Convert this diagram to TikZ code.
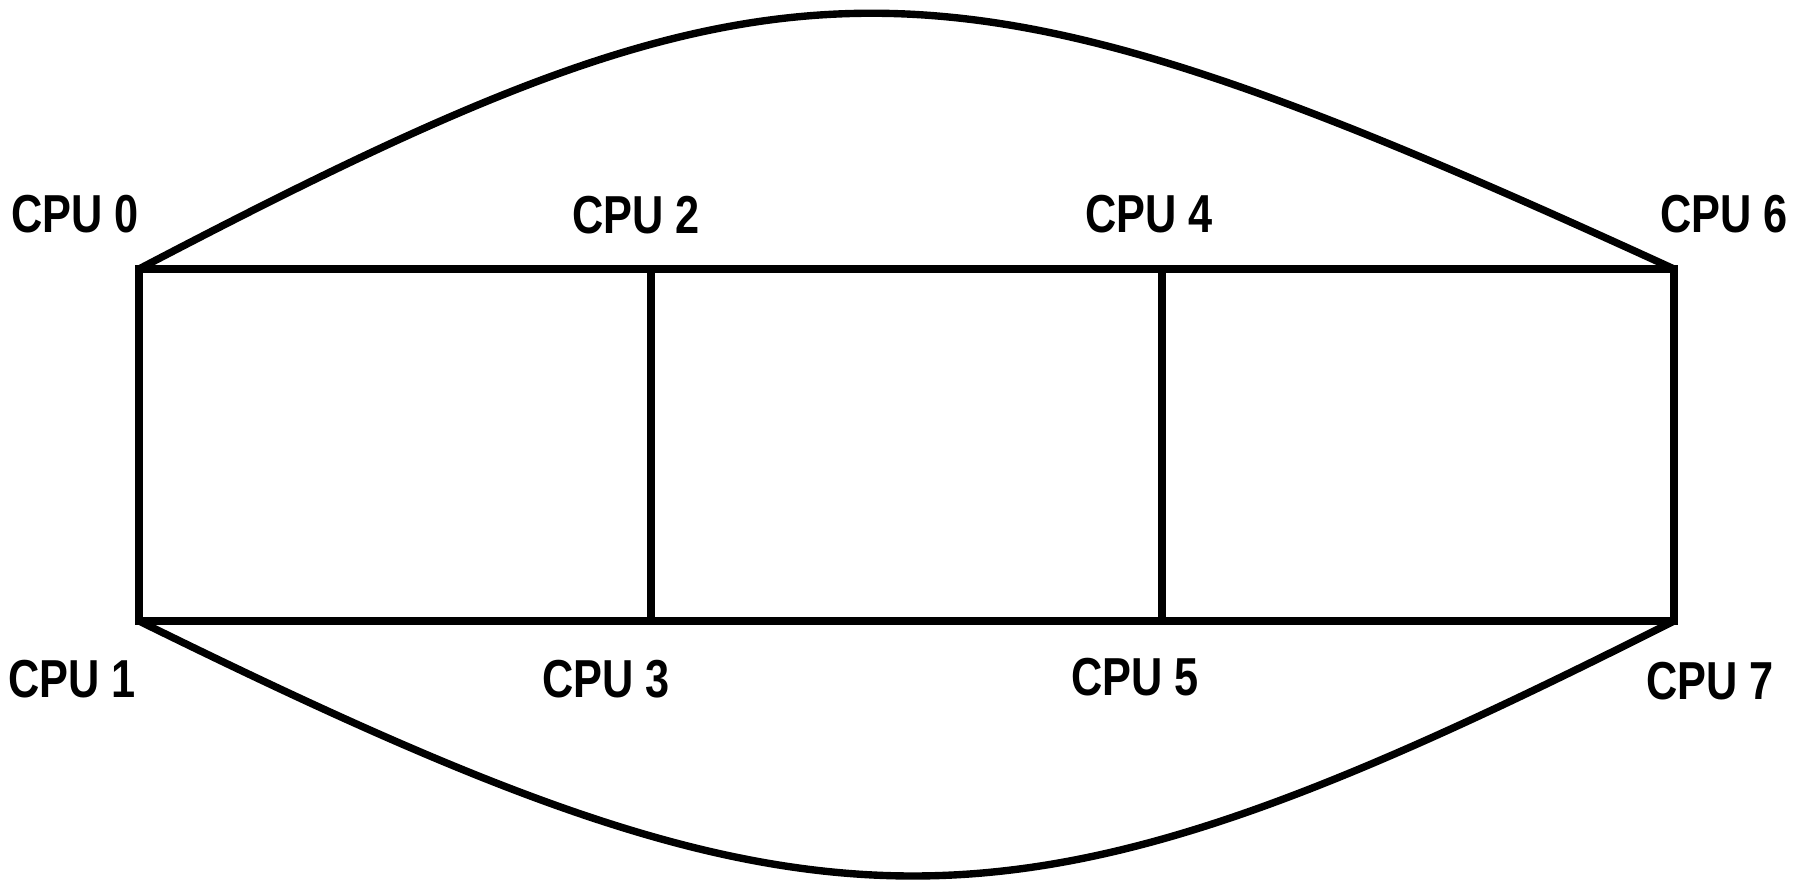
\documentclass[tikz,border=0pt]{standalone}
\usepackage{fontspec}
\setmainfont{Liberation Sans}
\newcommand{\cpulab}[1]{\scalebox{0.81}[1]{#1}}
\begin{document}
\begin{tikzpicture}[x=0.01cm,y=-0.01cm,
  link/.style={line width=2.2pt,line join=miter},
  arc/.style={line width=2.1pt},
  cpulabel/.style={inner sep=0pt,anchor=center,font=\fontsize{15.2}{18}\selectfont\bfseries}]
\useasboundingbox (0,0) rectangle (1806,880);
\coordinate (c0) at (139,269);
\coordinate (c1) at (139,621);
\coordinate (c2) at (651,269);
\coordinate (c3) at (651,621);
\coordinate (c4) at (1162,269);
\coordinate (c5) at (1162,621);
\coordinate (c6) at (1674,269);
\coordinate (c7) at (1674,621);
% mesh links
\draw[link] (c0) -- (c2) -- (c4) -- (c6) -- (c7) -- (c5) -- (c3) -- (c1) -- cycle;
\draw[link] (c2) -- (c3);
\draw[link] (c4) -- (c5);
% wrap-around links
\draw[arc] (c0) .. controls (790,-72) and (930,-72) .. (c6);
\draw[arc] (c1) .. controls (830,961) and (1000,961) .. (c7);
% labels
\node[cpulabel] (l0) at (75,214) {\cpulab{CPU 0}};
\node[cpulabel] (l2) at (636,215) {\cpulab{CPU 2}};
\node[cpulabel] (l4) at (1149,214) {\cpulab{CPU 4}};
\node[cpulabel] (l6) at (1724,214) {\cpulab{CPU 6}};
\node[cpulabel] (l1) at (72,679) {\cpulab{CPU 1}};
\node[cpulabel] (l3) at (606,679) {\cpulab{CPU 3}};
\node[cpulabel] (l5) at (1135,677) {\cpulab{CPU 5}};
\node[cpulabel] (l7) at (1710,681) {\cpulab{CPU 7}};
\end{tikzpicture}
\end{document}
